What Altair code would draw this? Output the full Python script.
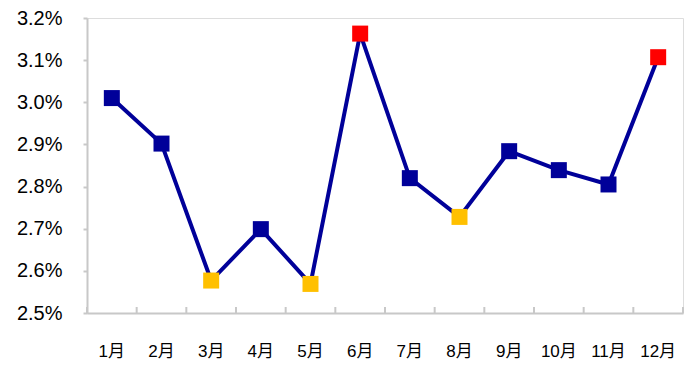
import altair as alt
import pandas as pd

months = ["1月", "2月", "3月", "4月", "5月", "6月", "7月", "8月", "9月", "10月", "11月", "12月"]
values = [0.03010, 0.02902, 0.02577, 0.02699, 0.02569, 0.03163, 0.02820, 0.02728, 0.02884, 0.02839, 0.02805, 0.03107]
kinds = ["mid", "mid", "low", "mid", "low", "high", "mid", "low", "mid", "mid", "mid", "high"]

df = pd.DataFrame({"month": months, "value": values, "kind": kinds})

FONT = "Liberation Sans, Arial, Noto Sans CJK SC"
AXIS_GRAY = "#c8c8c8"

x_enc = alt.X(
    "month:N",
    sort=months,
    scale=alt.Scale(paddingInner=0, paddingOuter=0),
    axis=alt.Axis(
        title=None, labelAngle=0, labelFontSize=17, labelFont=FONT, labelColor="#000000",
        labelAlign="center", bandPosition=0.5,
        labelPadding=38, labelBaseline="middle", ticks=False, domainColor=AXIS_GRAY, domainWidth=2,
    ),
)
y_enc = alt.Y(
    "value:Q",
    scale=alt.Scale(domain=[0.025, 0.032], nice=False, zero=False),
    axis=alt.Axis(
        title=None, format=".1%", values=[0.025, 0.026, 0.027, 0.028, 0.029, 0.030, 0.031, 0.032],
        labelFontSize=20, labelFont=FONT, labelColor="#000000", labelPadding=21,
        tickSize=4, tickColor=AXIS_GRAY, tickWidth=2, domainColor=AXIS_GRAY, domainWidth=2, grid=False,
    ),
)

base = alt.Chart(df)

line = base.mark_line(color="#000099", strokeWidth=4).encode(x=x_enc, y=y_enc)
points = base.mark_square(size=256, opacity=1).encode(
    x=x_enc,
    y=y_enc,
    color=alt.Color(
        "kind:N",
        scale=alt.Scale(domain=["mid", "low", "high"], range=["#000099", "#FFC000", "#FF0000"]),
        legend=None,
    ),
)

ticks_left = base.mark_rule(color=AXIS_GRAY, strokeWidth=2).encode(
    x=alt.X("month:N", sort=months, bandPosition=0),
    y=alt.value(289),
    y2=alt.value(295),
)
ticks_right = base.transform_filter(alt.datum.month == "12月").mark_rule(color=AXIS_GRAY, strokeWidth=2).encode(
    x=alt.X("month:N", sort=months, bandPosition=1),
    y=alt.value(289),
    y2=alt.value(295),
)

chart = (
    alt.layer(line, ticks_left, ticks_right, points)
    .properties(
        width=596,
        height=295,
        autosize=alt.AutoSizeParams(type="none"),
        padding={"left": 87, "top": 18, "right": 10, "bottom": 59},
    )
    .configure_view(stroke=None)
    .configure(background="white")
)

chart.save("out.html", embed_options={"renderer": "svg", "actions": False})
